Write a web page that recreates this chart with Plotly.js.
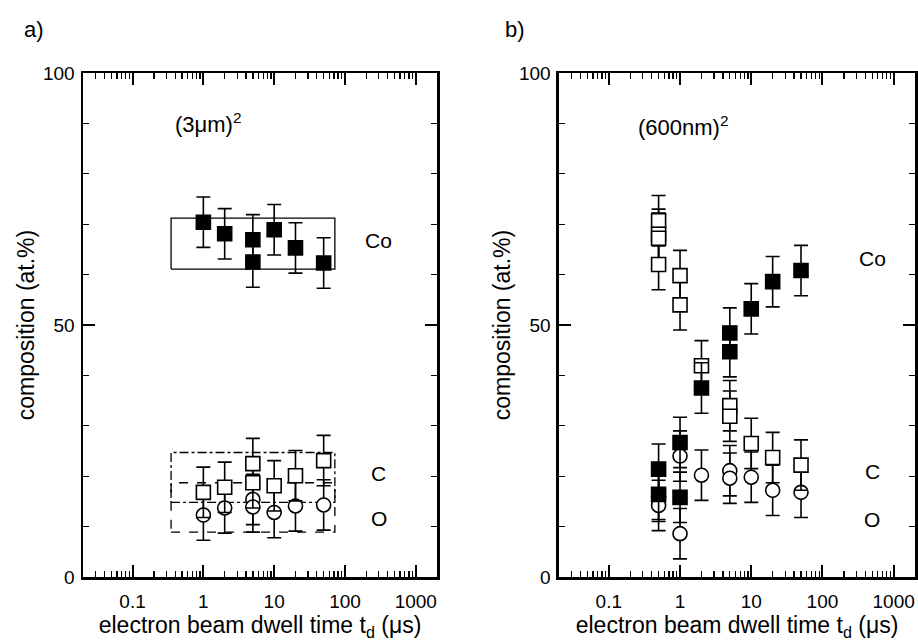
<!DOCTYPE html>
<html>
<head>
<meta charset="utf-8">
<script src="https://cdn.plot.ly/plotly-3.0.1.min.js"></script>
<style>body{margin:0;padding:0;background:#fff}#chart{width:918px;height:642px}</style>
</head>
<body>
<div id="chart"></div>
<script>
// ---------- data: panel a) (3 µm)^2 ----------
const aCoX = [1, 2, 5, 5, 10, 20, 50];
const aCoY = [70.4, 68.1, 66.9, 62.5, 68.9, 65.3, 62.3];
const aCX  = [1, 2, 5, 5, 10, 20, 50];
const aCY  = [16.8, 17.8, 22.5, 18.7, 18.1, 20.1, 23.1];
const aOX  = [1, 2, 5, 5, 10, 20, 50];
const aOY  = [12.3, 13.7, 15.4, 13.9, 12.8, 14.1, 14.3];
const errA = 5;
// boxes around each group in panel a
const boxX  = [0.35, 72];
const coBox = [61.1, 71.2];
const cBox  = [14.8, 24.7];
const oBox  = [8.9, 18.7];

// ---------- data: panel b) (600 nm)^2 ----------
const bFilledX = [0.5, 0.5, 1, 1, 2, 5, 5, 10, 20, 50];
const bFilledY = [21.4, 16.4, 26.7, 15.8, 37.5, 48.4, 44.7, 53.2, 58.6, 60.8];
const bOpenX   = [0.5, 0.5, 0.5, 0.5, 1, 1, 2, 5, 5, 10, 20, 50];
const bOpenY   = [70.7, 68.0, 67.2, 62.0, 59.8, 54.0, 41.9, 34.0, 31.9, 26.5, 23.7, 22.2];
const bCircX   = [0.5, 0.5, 1, 1, 2, 5, 5, 10, 20, 50];
const bCircY   = [16.0, 14.2, 24.0, 8.6, 20.2, 21.1, 19.6, 19.8, 17.2, 16.8];
const errB = 5;

// ---------- tick labels ----------
const xTickVals = [0.1, 1, 10, 100, 1000];
const xTickText = ['0.1', '1', '10', '100', '1000'];
const yTickVals = [0, 50, 100];
const yTickText = ['0', '50', '100'];

// labels
const elemLabels = ['Co', 'C', 'O'];
const aLabelY = [66.8, 20.5, 11.7];
const bLabelY = [63.2, 21.0, 11.5];
const labelXa = 300, labelXb = 500;

// ---------- build ----------
const FONT = 'Liberation Sans, Arial, Helvetica, sans-serif';
const minorX = [];
for (let e = -2; e <= 3; e++) for (let d = 2; d <= 9; d++) minorX.push(d * Math.pow(10, e));

function errOpt(v){ return {type:'constant', value:v, visible:true, color:'black', thickness:1.6, width:7}; }
function pts(x, y, err, sym, fill, xa, ya){
  return {x:x, y:y, type:'scatter', mode:'markers', xaxis:xa, yaxis:ya,
    marker:{symbol:sym, size:14, color:fill, line:{color:'black', width:1.6}},
    error_y:errOpt(err), showlegend:false, hoverinfo:'skip'};
}
function box(bx, by, dash, xa, ya){
  return {x:[bx[0], bx[1], bx[1], bx[0], bx[0]], y:[by[0], by[0], by[1], by[1], by[0]],
    type:'scatter', mode:'lines', xaxis:xa, yaxis:ya,
    line:{color:'black', width:1.3, dash:dash}, showlegend:false, hoverinfo:'skip'};
}

const traces = [
  box(boxX, coBox, 'solid', 'x', 'y'),
  box(boxX, cBox, 'dashdot', 'x', 'y'),
  box(boxX, oBox, 'dash', 'x', 'y'),
  pts(aOX, aOY, errA, 'circle', 'white', 'x', 'y'),
  pts(aCX, aCY, errA, 'square', 'white', 'x', 'y'),
  pts(aCoX, aCoY, errA, 'square', 'black', 'x', 'y'),
  pts(bCircX, bCircY, errB, 'circle', 'white', 'x2', 'y2'),
  pts(bOpenX, bOpenY, errB, 'square', 'white', 'x2', 'y2'),
  pts(bFilledX, bFilledY, errB, 'square', 'black', 'x2', 'y2')
];

function xAxis(dom, anchor){
  return {type:'log', range:[-1.7, 3.3], domain:dom, anchor:anchor,
    showgrid:false, zeroline:false, showline:true, linecolor:'black', linewidth:2.5,
    mirror:'allticks', ticks:'inside', ticklen:12, tickwidth:2, tickcolor:'black',
    tickmode:'array', tickvals:xTickVals, ticktext:xTickText,
    tickfont:{family:FONT, size:19, color:'black'}, ticklabelstandoff:6,
    minor:{ticks:'inside', ticklen:6, tickwidth:1.3, tickcolor:'black', tickmode:'array', tickvals:minorX, showgrid:false},
    title:{text:'electron beam dwell time t<sub>d</sub> (μs)', font:{family:FONT, size:23, color:'black'}, standoff:2},
    automargin:false, fixedrange:true};
}
function yAxis(anchor){
  return {range:[0, 100], domain:[0, 1], anchor:anchor,
    showgrid:false, zeroline:false, showline:true, linecolor:'black', linewidth:2.5,
    mirror:'allticks', ticks:'inside', ticklen:12, tickwidth:2, tickcolor:'black',
    tickmode:'array', tickvals:yTickVals, ticktext:yTickText,
    tickfont:{family:FONT, size:19, color:'black'}, ticklabelstandoff:2,
    minor:{ticks:'inside', ticklen:6, tickwidth:1.3, tickcolor:'black', dtick:10, showgrid:false},
    title:{text:'composition (at.%)', font:{family:FONT, size:23, color:'black'}, standoff:2},
    automargin:false, fixedrange:true};
}

const ann = [];
function txt(x, y, t, xr, yr, size){
  ann.push({x:Math.log10(x), y:y, xref:xr, yref:yr, text:t, showarrow:false,
    font:{family:FONT, size:size, color:'black'}, xanchor:'center', yanchor:'middle'});
}
elemLabels.forEach((l, i) => { txt(labelXa, aLabelY[i], l, 'x', 'y', 21); txt(labelXb, bLabelY[i], l, 'x2', 'y2', 21); });
txt(1.15, 90, '(3μm)<sup>2</sup>', 'x', 'y', 22);
txt(1.1, 89.5, '(600nm)<sup>2</sup>', 'x2', 'y2', 22);
ann.push({x:(22 - 83)/832, y:1 + (73 - 29)/504, xref:'paper', yref:'paper', text:'a)', showarrow:false, font:{family:FONT, size:22, color:'black'}, xanchor:'left', yanchor:'middle'});
ann.push({x:(503 - 83)/832, y:1 + (73 - 29)/504, xref:'paper', yref:'paper', text:'b)', showarrow:false, font:{family:FONT, size:22, color:'black'}, xanchor:'left', yanchor:'middle'});

const layout = {
  width:918, height:642,
  margin:{l:83, r:3, t:73, b:65},
  paper_bgcolor:'white', plot_bgcolor:'white',
  showlegend:false,
  xaxis: xAxis([0, 0.4255], 'y'),
  yaxis: yAxis('x'),
  xaxis2: xAxis([0.5721, 1], 'y2'),
  yaxis2: yAxis('x2'),
  annotations: ann
};

Plotly.newPlot('chart', traces, layout, {staticPlot:true, displayModeBar:false});
</script>
</body>
</html>
